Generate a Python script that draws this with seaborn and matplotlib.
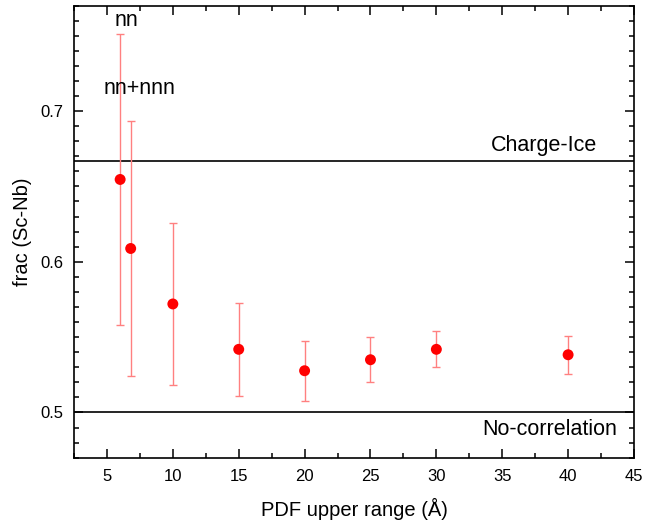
import matplotlib
matplotlib.use("Agg")
import matplotlib.pyplot as plt
import seaborn as sns
import pandas as pd
from matplotlib.ticker import MultipleLocator, FormatStrFormatter

sns.set_theme(style="ticks")
plt.rcParams['font.family'] = ['Liberation Sans', 'DejaVu Sans']
plt.rcParams['text.color'] = 'black'
plt.rcParams['axes.labelcolor'] = 'black'

# Data
pdf_range = [6.0, 6.8, 10, 15, 20, 25, 30, 40]
frac = [0.6546, 0.6088, 0.572, 0.5419, 0.5277, 0.5350, 0.5419, 0.5383]
frac_err = [0.0963, 0.0845, 0.0535, 0.0310, 0.0200, 0.0150, 0.0120, 0.0125]
ref_values = [2 / 3, 0.5]
ref_labels = ["Charge-Ice", "No-correlation"]

df = pd.DataFrame({"x": pdf_range, "y": frac, "err": frac_err})

fig = plt.figure(figsize=(6.46, 5.21), dpi=100)
ax = fig.add_axes([0.1146, 0.1215, 0.8668, 0.8679])

ax.errorbar(df["x"], df["y"], yerr=df["err"], fmt="none", ecolor="#ff8080",
            elinewidth=1.0, capsize=3, capthick=1.0, zorder=2)
sns.scatterplot(data=df, x="x", y="y", ax=ax, color="#ff0000", s=62,
                edgecolor="none", zorder=3, legend=False)

for v in ref_values:
    ax.axhline(v, color="black", lw=1.2, zorder=1)

ax.text(42.2, 0.677, ref_labels[0], ha="right", va="center", fontsize=15.5, color="black")
ax.text(43.7, 0.4887, ref_labels[1], ha="right", va="center", fontsize=15.5, color="black")
ax.text(6.45, 0.760, "nn", ha="center", va="center", fontsize=15.5, color="black")
ax.text(7.45, 0.7150, "nn+nnn", ha="center", va="center", fontsize=15.5, color="black")

ax.set_xlim(2.5, 45)
ax.set_ylim(0.47, 0.77)
ax.xaxis.set_major_locator(MultipleLocator(5))
ax.xaxis.set_minor_locator(MultipleLocator(2.5))
ax.yaxis.set_major_locator(MultipleLocator(0.1))
ax.yaxis.set_minor_locator(MultipleLocator(0.01))
ax.yaxis.set_major_formatter(FormatStrFormatter("%.1f"))
ax.tick_params(which="both", direction="in", top=True, right=True, colors="black",
               labelsize=12, width=1.1)
ax.tick_params(which="major", length=6.5)
ax.tick_params(axis="x", which="major", pad=8)
ax.tick_params(axis="y", which="major", pad=8)
ax.tick_params(which="minor", length=3.8)
for s in ax.spines.values():
    s.set_color("black")
    s.set_linewidth(1.2)

ax.set_xlabel("PDF upper range (Å)", fontsize=14.5, labelpad=10)
ax.set_ylabel("frac (Sc-Nb)", fontsize=14.5, labelpad=6)

fig.savefig("out.png", dpi=100)
